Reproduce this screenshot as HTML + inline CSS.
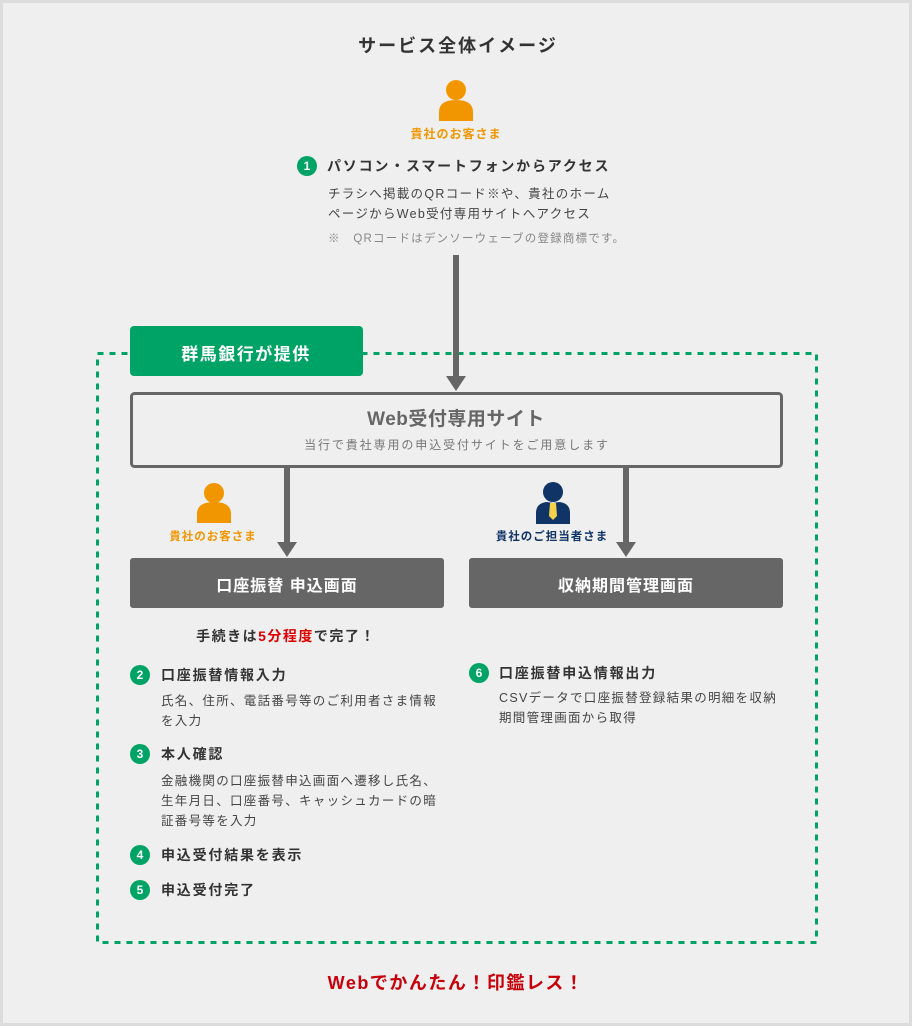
<!DOCTYPE html>
<html><head><meta charset="utf-8"><style>
*{margin:0;padding:0;box-sizing:border-box}
body{width:912px;height:1026px;background:#efefef;position:relative;overflow:hidden;font-family:"Liberation Sans","Noto Sans CJK JP",sans-serif;color:#333;letter-spacing:1.5px}
.a{position:absolute;white-space:nowrap}
.c{transform:translateX(-50%)}
.n{position:absolute;width:20px;height:20px;border-radius:50%;background:#00a366;color:#fff;font-size:12px;font-weight:bold;text-align:center;line-height:20px;letter-spacing:0}
.h{font-size:14px;font-weight:bold;color:#333;letter-spacing:1.8px}
.t{font-size:12.5px;color:#444;line-height:20px;letter-spacing:1.3px}
</style></head><body>
<svg width="912" height="1026" style="position:absolute;left:0;top:0">
<rect x="1.5" y="1.5" width="909" height="1023" fill="none" stroke="#dcdcdc" stroke-width="3"/>
<rect x="97.5" y="353.5" width="719" height="589" fill="none" stroke="#00a366" stroke-width="3" stroke-dasharray="6 6"/>
<rect x="130" y="326" width="233" height="50" rx="4" fill="#00a366"/>
<rect x="131.5" y="393.5" width="650" height="73" rx="3" fill="#efefef" stroke="#666" stroke-width="3"/>
<rect x="453" y="255" width="6" height="122" fill="#666"/><polygon points="446,376 466,376 456,391" fill="#666"/>
<rect x="284" y="468" width="6" height="75" fill="#666"/><polygon points="277,542 297,542 287,557" fill="#666"/>
<rect x="623" y="468" width="6" height="75" fill="#666"/><polygon points="616,542 636,542 626,557" fill="#666"/>
<rect x="130" y="558" width="314" height="50" rx="3" fill="#666"/>
<rect x="469" y="558" width="314" height="50" rx="3" fill="#666"/>
<circle cx="456" cy="90" r="10" fill="#f29600"/><path d="M439,121 V112 Q439,100 456,100 Q473,100 473,112 V121 Z" fill="#f29600"/>
<circle cx="214" cy="493" r="10" fill="#f29600"/><path d="M197,523 V514 Q197,502 214,502 Q231,502 231,514 V523 Z" fill="#f29600"/>
<circle cx="553" cy="492" r="10" fill="#0f3465"/><path d="M536,524 V513 Q536,503 547,502 L553,503 L559,502 Q570,503 570,513 V524 Z" fill="#0f3465"/>
<polygon points="550,503 556,503 557,516 553,520 549,516" fill="#f5d24a"/>
</svg>
<div class="a c" style="left:458px;top:32px;font-size:18px;font-weight:bold;letter-spacing:2px">サービス全体イメージ</div>
<div class="a c" style="left:456px;top:125px;font-size:12px;font-weight:bold;color:#f29600;letter-spacing:1px">貴社のお客さま</div>
<div class="n" style="left:297px;top:156px">1</div>
<div class="a h" style="left:327px;top:156px">パソコン・スマートフォンからアクセス</div>
<div class="a t" style="left:328px;top:184px">チラシへ掲載のQRコード※や、貴社のホーム<br>ページからWeb受付専用サイトへアクセス</div>
<div class="a" style="left:328px;top:230px;font-size:11.5px;color:#888;letter-spacing:1.2px">※　QRコードはデンソーウェーブの登録商標です。</div>
<div class="a c" style="left:246px;top:340px;font-size:17px;font-weight:bold;color:#fff">群馬銀行が提供</div>
<div class="a c" style="left:456px;top:404px;font-size:19px;font-weight:bold;color:#666;letter-spacing:0.5px">Web受付専用サイト</div>
<div class="a c" style="left:457px;top:436px;font-size:12px;color:#777;letter-spacing:1.9px">当行で貴社専用の申込受付サイトをご用意します</div>
<div class="a c" style="left:213px;top:528px;font-size:11.5px;font-weight:bold;color:#f29600;letter-spacing:1px">貴社のお客さま</div>
<div class="a c" style="left:552px;top:528px;font-size:11.5px;font-weight:bold;color:#0f3465;letter-spacing:1px">貴社のご担当者さま</div>
<div class="a c" style="left:287px;top:572px;font-size:16px;font-weight:bold;color:#fff;letter-spacing:1px">口座振替 申込画面</div>
<div class="a c" style="left:626px;top:572px;font-size:16px;font-weight:bold;color:#fff;letter-spacing:1px">収納期間管理画面</div>
<div class="a c" style="left:286px;top:626px;font-size:14px;font-weight:bold">手続きは<span style="color:#d00">5分程度</span>で完了！</div>
<div class="n" style="left:130px;top:665px">2</div><div class="a h" style="left:161px;top:665px">口座振替情報入力</div>
<div class="a t" style="left:161px;top:691px">氏名、住所、電話番号等のご利用者さま情報<br>を入力</div>
<div class="n" style="left:130px;top:744px">3</div><div class="a h" style="left:161px;top:744px">本人確認</div>
<div class="a t" style="left:161px;top:771px">金融機関の口座振替申込画面へ遷移し氏名、<br>生年月日、口座番号、キャッシュカードの暗<br>証番号等を入力</div>
<div class="n" style="left:130px;top:845px">4</div><div class="a h" style="left:161px;top:845px">申込受付結果を表示</div>
<div class="n" style="left:130px;top:880px">5</div><div class="a h" style="left:161px;top:880px">申込受付完了</div>
<div class="n" style="left:469px;top:663px">6</div><div class="a h" style="left:499px;top:663px">口座振替申込情報出力</div>
<div class="a t" style="left:499px;top:688px">CSVデータで口座振替登録結果の明細を収納<br>期間管理画面から取得</div>
<div class="a c" style="left:456px;top:969px;font-size:18px;font-weight:bold;color:#c8000a">Webでかんたん！印鑑レス！</div>
</body></html>
